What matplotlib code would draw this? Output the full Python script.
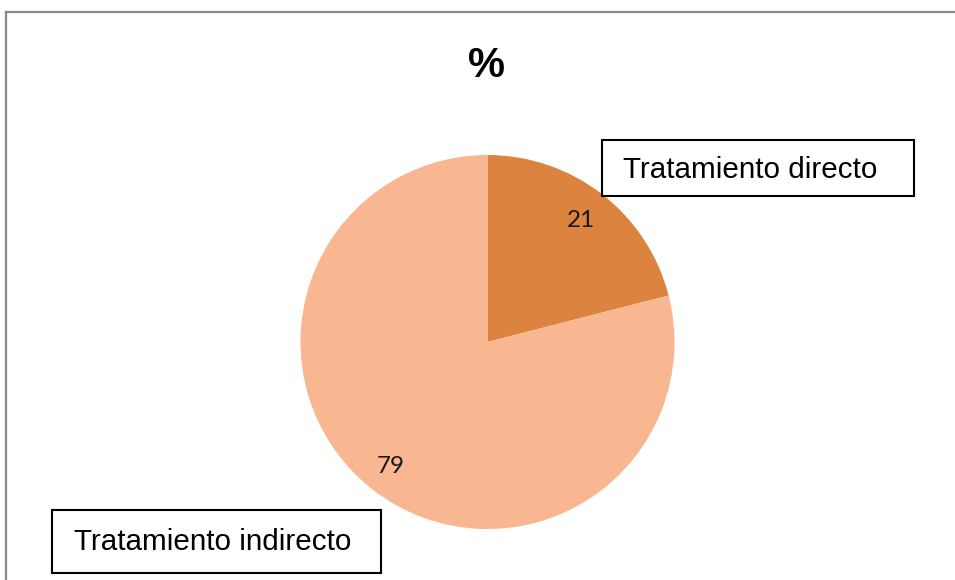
import matplotlib
matplotlib.use("Agg")
import matplotlib.pyplot as plt
from matplotlib.patches import Rectangle
from matplotlib.lines import Line2D
import numpy as np

categories = ["Tratamiento directo", "Tratamiento indirecto"]
values = [21, 79]
colors = ["#DC843F", "#F8B691"]
title = "%"

W, H = 955, 580
fig = plt.figure(figsize=(W / 100, H / 100), dpi=100)
fig.patch.set_facecolor("white")

# outer frame (top and left edges visible)
fig.add_artist(Line2D([6 / W, 1], [1 - 12 / H, 1 - 12 / H], color="#8a8a8a", lw=1.6))
fig.add_artist(Line2D([6 / W, 6 / W], [0, 1 - 12 / H], color="#8a8a8a", lw=1.6))

# pie axes
cx, cy, r = 487.5, 342, 187
ax = fig.add_axes([(cx - r) / W, 1 - (cy + r) / H, 2 * r / W, 2 * r / H])
wedges, texts = ax.pie(values, colors=colors, startangle=90, counterclock=False,
                       radius=1.0, wedgeprops=dict(linewidth=0))
ax.set_xlim(-1, 1)
ax.set_ylim(-1, 1)
ax.set_aspect("equal")
ax.axis("off")

# data labels
total = sum(values)
start = 90.0
label_r = [0.82, 0.845]
for i, v in enumerate(values):
    ang = start - 360 * v / total / 2
    start -= 360 * v / total
    rr = label_r[i]
    ax.text(rr * np.cos(np.radians(ang)), rr * np.sin(np.radians(ang)), str(v),
            ha="center", va="center", fontsize=17.5, color="#1a1a1a", family="Lato")

# title
fig.text(486 / W, 1 - 66 / H, title, ha="center", va="center", fontsize=30,
         fontweight="bold", family="Liberation Sans")

# category callout boxes
boxes = [(602, 140, 914, 196), (52, 510, 381, 573)]
text_pos = [(623, 178), (74, 550)]
for (x0, y0, x1, y1), (tx, ty), name in zip(boxes, text_pos, categories):
    fig.add_artist(Rectangle((x0 / W, 1 - y1 / H), (x1 - x0) / W, (y1 - y0) / H,
                             transform=fig.transFigure, facecolor="white",
                             edgecolor="black", lw=1.5))
    fig.text(tx / W, 1 - ty / H, name, ha="left", va="baseline", fontsize=21.3,
             family="Liberation Sans", color="black")

fig.savefig("out.png", dpi=100, facecolor="white")
